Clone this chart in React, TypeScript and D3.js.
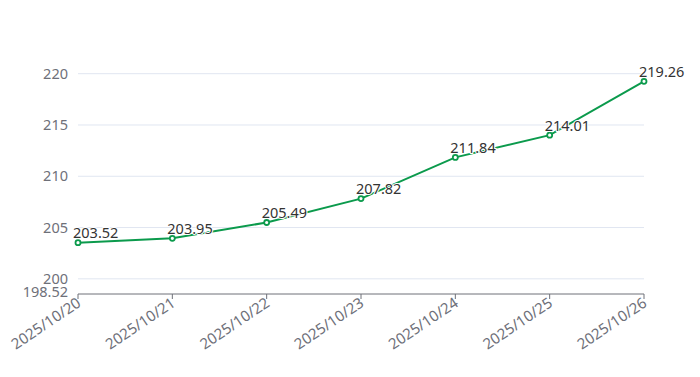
import React from "react";
import * as d3 from "d3";

const categories = ["2025/10/20", "2025/10/21", "2025/10/22", "2025/10/23", "2025/10/24", "2025/10/25", "2025/10/26"];
const values = [203.52, 203.95, 205.49, 207.82, 211.84, 214.01, 219.26];
const yTicks = [200, 205, 210, 215, 220];
const yMin = 198.52;
const yMax = 224.26;

const W = 700, H = 377;
const left = 78, right = 644, top = 30, bottom = 294;
const font = "'Noto Sans', 'DejaVu Sans', sans-serif";
const green = "#0b9a4c";

export default function App() {
  const x = d3.scalePoint<string>().domain(categories).range([left, right]);
  const y = d3.scaleLinear().domain([yMin, yMax]).range([bottom, top]);
  const line = d3.line<number>().x((_, i) => x(categories[i])!).y((d) => y(d));

  return (
    <svg width={W} height={H} style={{ position: "absolute", left: 0, top: 0 }} fontFamily={font}>
      {yTicks.map((t) => (
        <g key={t}>
          <line x1={left} x2={right} y1={y(t)} y2={y(t)} stroke="#e0e6f1" strokeWidth={1} />
          <text x={left - 10} y={y(t)} dy="0.35em" textAnchor="end" fontSize={14.5} fill="#6e7079">{t}</text>
        </g>
      ))}
      <text x={left - 10} y={y(yMin)} dy="0.2em" textAnchor="end" fontSize={14.5} fill="#6e7079">{yMin}</text>
      <line x1={left} x2={right} y1={bottom} y2={bottom} stroke="#6e7079" strokeWidth={1} />
      {categories.map((c) => (
        <g key={c}>
          <line x1={x(c)!} x2={x(c)!} y1={bottom} y2={bottom + 5} stroke="#6e7079" strokeWidth={1} />
          <text
            transform={`translate(${x(c)! + 1},${bottom + 7}) rotate(-34)`}
            textAnchor="end"
            dy="0.35em"
            fontSize={15}
            fill="#6e7079"
          >{c}</text>
        </g>
      ))}
      <path d={line(values) || ""} fill="none" stroke={green} strokeWidth={2} />
      {values.map((v, i) => (
        <circle key={i} cx={x(categories[i])!} cy={y(v)} r={2.5} fill="#fff" stroke={green} strokeWidth={1.8} />
      ))}
      {values.map((v, i) => (
        <text
          key={"l" + i}
          x={x(categories[i])! - 5}
          y={y(v) - 4.5}
          fontSize={14.5}
          fill="#333"
          stroke="#fff"
          strokeWidth={2}
          paintOrder="stroke"
        >{v.toFixed(2)}</text>
      ))}
    </svg>
  );
}
